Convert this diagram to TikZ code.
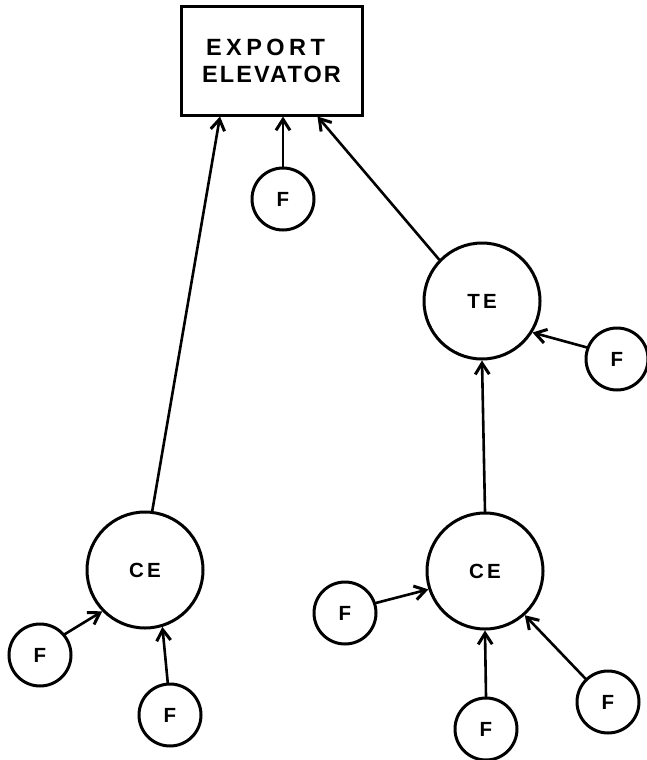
\documentclass[tikz,border=0pt]{standalone}
\usepackage{fontspec}
\setmainfont{Liberation Sans}
\usetikzlibrary{arrows.meta,calc}
% label fonts for the box and the circles
\newcommand{\boxfont}{\bfseries\fontsize{23.5}{27}\selectfont\addfontfeature{LetterSpace=9}}
\newcommand{\unitfont}{\bfseries\fontsize{20.5}{20.5}\selectfont\addfontfeature{LetterSpace=16}}
\begin{document}
\begin{tikzpicture}[x=1pt,y=-1pt,
  unit/.style={circle,draw,line width=3pt,inner sep=0pt,font=\unitfont},
  bigunit/.style={unit,minimum size=116pt},
  farm/.style={unit,minimum size=62pt},
  feed/.style={line width=2.6pt,line cap=round,
    -{Straight Barb[length=11pt,width=14pt,line width=3pt]}}
]
\path[use as bounding box,fill=white] (0,0) rectangle (646,760);

% terminal
\node[draw,line width=3pt,minimum width=181pt,minimum height=108pt,
      inner sep=0pt,align=left,font=\boxfont] (box) at (271.5,61)
      {\hspace*{4pt}{\addfontfeature{LetterSpace=19}EXPORT}\\ELEVATOR};

% elevators
\node[bigunit] (te)  at (482,301) {TE};
\node[bigunit] (ceA) at (145,570) {CE};
\node[bigunit] (ceB) at (485,571) {CE};

% farms
\node[farm] (f0) at (283,199) {F};
\node[farm] (f1) at (617,359) {F};
\node[farm] (f2) at (40,655)  {F};
\node[farm] (f3) at (170,715) {F};
\node[farm] (f4) at (345,613) {F};
\node[farm] (f5) at (486,729) {F};
\node[farm] (f6) at (608,702) {F};

% delivery points on the terminal
\coordinate (inA) at ($(box.south west)!0.22!(box.south east)$);
\coordinate (inB) at ($(box.south west)!0.75!(box.south east)$);

% flows
\draw[feed] (f0.north) -- (f0.north |- box.south);
\draw[feed] (ceA.83) -- (inA);
\draw[feed] (te.136) -- (inB);
\draw[feed] (f1.159) -- (te.-32);
\draw[feed] (ceB.north) -- (te.south);
\draw[feed] (f2.40) -- (ceA.224);
\draw[feed] (f3.94) -- (ceA.-73);
\draw[feed] (f4.18) -- (ceB.198);
\draw[feed] (f5.north) -- (ceB.south);
\draw[feed] (f6.134) -- (ceB.-48);
\end{tikzpicture}
\end{document}
